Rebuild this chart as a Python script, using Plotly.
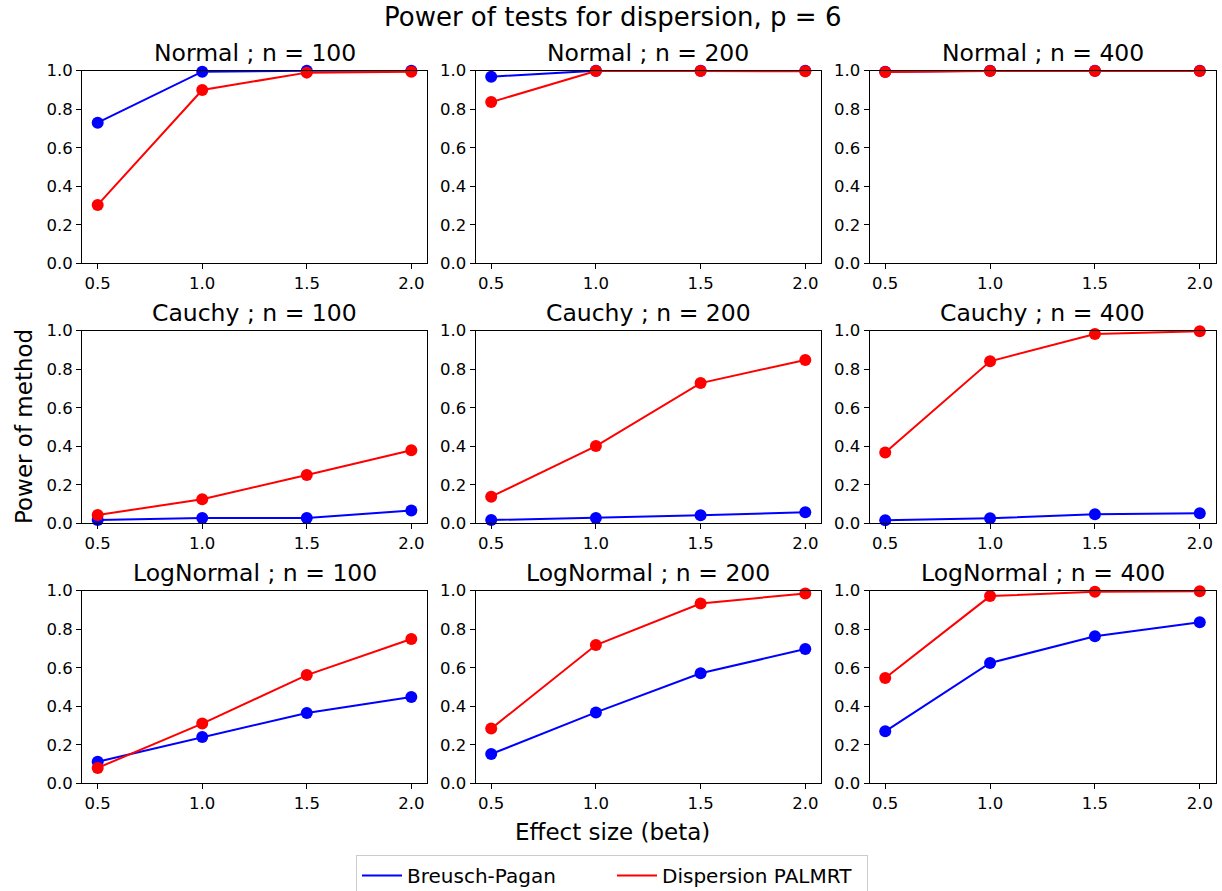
import plotly.graph_objects as go

beta = [0.5, 1.0, 1.5, 2.0]
dists = ["Normal", "Cauchy", "LogNormal"]
ns = [100, 200, 400]

# Breusch-Pagan power (rows: distribution, cols: n)
bp_normal_100 = [0.73, 0.995, 1.0, 1.0]
bp_normal_200 = [0.969, 1.0, 1.0, 1.0]
bp_normal_400 = [0.995, 1.0, 1.0, 1.0]
bp_cauchy_100 = [0.017, 0.028, 0.028, 0.066]
bp_cauchy_200 = [0.017, 0.028, 0.042, 0.057]
bp_cauchy_400 = [0.016, 0.026, 0.047, 0.052]
bp_lognormal_100 = [0.112, 0.240, 0.365, 0.448]
bp_lognormal_200 = [0.152, 0.368, 0.571, 0.697]
bp_lognormal_400 = [0.270, 0.625, 0.763, 0.836]

# Dispersion PALMRT power
pal_normal_100 = [0.303, 0.900, 0.990, 0.995]
pal_normal_200 = [0.837, 0.998, 0.998, 0.997]
pal_normal_400 = [0.993, 0.998, 0.998, 0.998]
pal_cauchy_100 = [0.043, 0.125, 0.251, 0.379]
pal_cauchy_200 = [0.138, 0.401, 0.728, 0.848]
pal_cauchy_400 = [0.368, 0.841, 0.983, 0.997]
pal_lognormal_100 = [0.080, 0.310, 0.562, 0.749]
pal_lognormal_200 = [0.284, 0.718, 0.933, 0.986]
pal_lognormal_400 = [0.547, 0.972, 0.995, 0.997]

bp = [[bp_normal_100, bp_normal_200, bp_normal_400],
      [bp_cauchy_100, bp_cauchy_200, bp_cauchy_400],
      [bp_lognormal_100, bp_lognormal_200, bp_lognormal_400]]
pal = [[pal_normal_100, pal_normal_200, pal_normal_400],
       [pal_cauchy_100, pal_cauchy_200, pal_cauchy_400],
       [pal_lognormal_100, pal_lognormal_200, pal_lognormal_400]]

W, H = 1222, 891
col_px = [(82, 427), (475.5, 821), (869.5, 1215.5)]
row_px = [(70.7, 263.3), (330.7, 523.3), (590.7, 783.3)]

FONT = "DejaVu Sans"
fig = go.Figure()
layout = {}
annotations = []

for r in range(3):
    for c in range(3):
        idx = r * 3 + c + 1
        xa = "x" if idx == 1 else f"x{idx}"
        ya = "y" if idx == 1 else f"y{idx}"
        xkey = "xaxis" if idx == 1 else f"xaxis{idx}"
        ykey = "yaxis" if idx == 1 else f"yaxis{idx}"
        x0, x1 = col_px[c]
        t0, t1 = row_px[r]
        common = dict(showline=True, linecolor="black", linewidth=1, mirror=True,
                      ticks="outside", ticklen=5, tickwidth=1, tickcolor="black",
                      showgrid=False, zeroline=False, automargin=False,
                      tickfont=dict(family=FONT, size=16.5, color="black"))
        layout[xkey] = dict(domain=[x0 / W, x1 / W], anchor=ya, range=[0.425, 2.075],
                            tickvals=beta, ticktext=["0.5", "1.0", "1.5", "2.0"], **common)
        layout[ykey] = dict(domain=[1 - t1 / H, 1 - t0 / H], anchor=xa, range=[0, 1],
                            tickvals=[0, 0.2, 0.4, 0.6, 0.8, 1.0],
                            ticktext=["0.0", "0.2", "0.4", "0.6", "0.8", "1.0"], **common)
        fig.add_trace(go.Scatter(x=beta, y=bp[r][c], mode="lines+markers",
                                 line=dict(color="blue", width=2),
                                 marker=dict(color="blue", size=12),
                                 xaxis=xa, yaxis=ya, showlegend=False, cliponaxis=False))
        fig.add_trace(go.Scatter(x=beta, y=pal[r][c], mode="lines+markers",
                                 line=dict(color="red", width=2),
                                 marker=dict(color="red", size=12),
                                 xaxis=xa, yaxis=ya, showlegend=False, cliponaxis=False))
        annotations.append(dict(text=f"{dists[r]} ; n = {ns[c]}", xref="paper", yref="paper",
                                x=(x0 + x1) / 2 / W, y=1 - (t0 - 2) / H,
                                xanchor="center", yanchor="bottom", showarrow=False,
                                font=dict(family=FONT, size=23.5, color="black")))

# legend-only traces
fig.add_trace(go.Scatter(x=[None], y=[None], mode="lines", name="Breusch-Pagan",
                         line=dict(color="blue", width=2)))
fig.add_trace(go.Scatter(x=[None], y=[None], mode="lines", name="Dispersion PALMRT",
                         line=dict(color="red", width=2)))

annotations.append(dict(text="Power of tests for dispersion, p = 6", xref="paper", yref="paper",
                        x=612 / W, y=1 - 17 / H, xanchor="center", yanchor="middle",
                        showarrow=False, font=dict(family=FONT, size=26, color="black")))
annotations.append(dict(text="Effect size (beta)", xref="paper", yref="paper",
                        x=612 / W, y=1 - 832 / H, xanchor="center", yanchor="middle",
                        showarrow=False, font=dict(family=FONT, size=23, color="black")))
annotations.append(dict(text="Power of method", xref="paper", yref="paper",
                        x=24 / W, y=1 - 427 / H, xanchor="center", yanchor="middle",
                        textangle=-90, showarrow=False,
                        font=dict(family=FONT, size=23, color="black")))

fig.update_layout(**layout)
fig.update_layout(
    width=W, height=H, margin=dict(l=0, r=0, t=0, b=0, autoexpand=False),
    paper_bgcolor="white", plot_bgcolor="white",
    annotations=annotations,
    showlegend=True,
    legend=dict(orientation="h", xref="container", yref="container",
                x=612 / W, xanchor="center", y=1 - 855 / H, yanchor="top",
                bgcolor="white", bordercolor="#cccccc", borderwidth=1,
                font=dict(family=FONT, size=20, color="black"),
                itemwidth=40, entrywidth=200),
)

fig.write_html("out.html")
